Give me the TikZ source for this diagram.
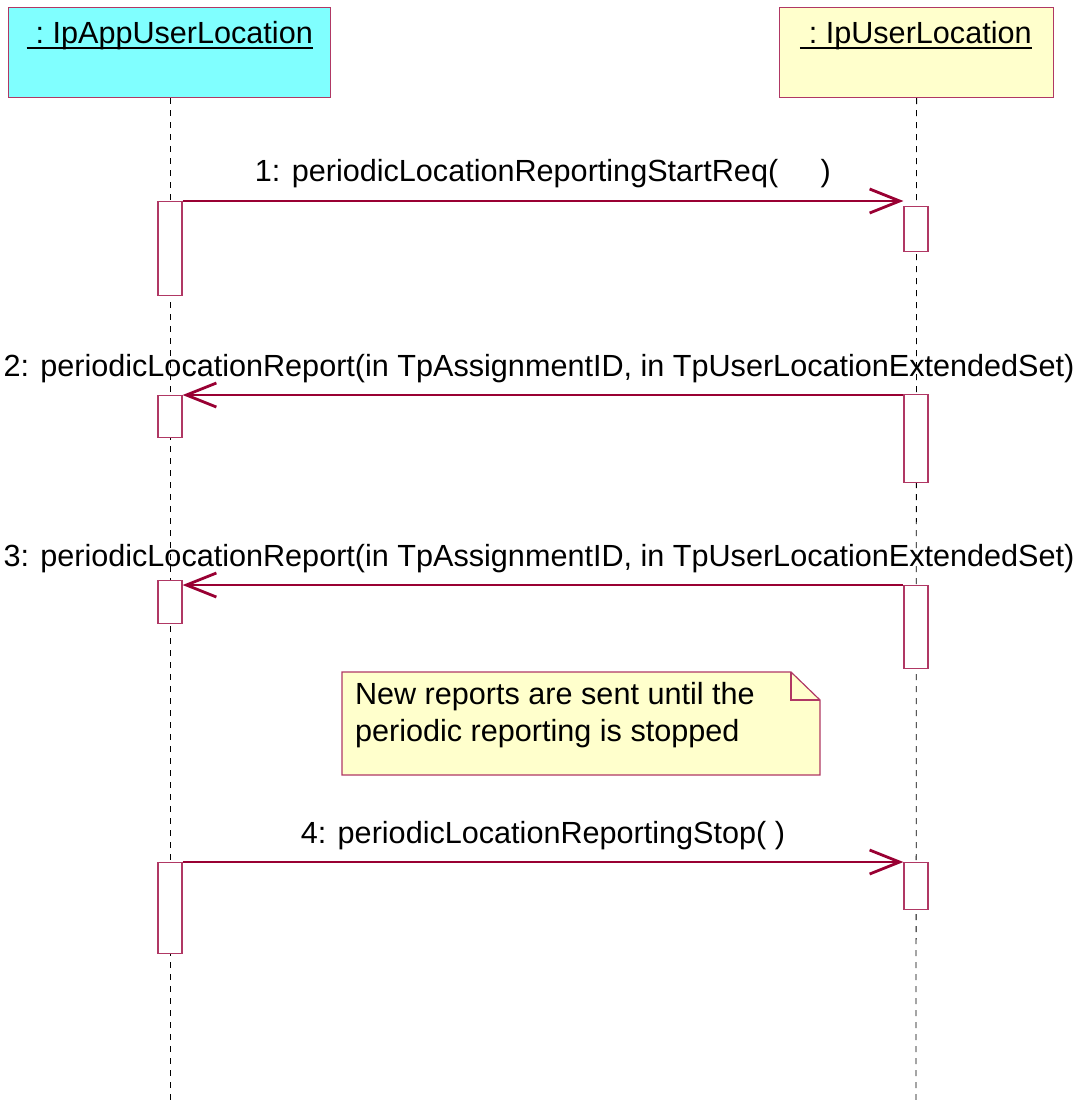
\documentclass[tikz,border=0pt]{standalone}
\usepackage{fontspec}
\setmainfont{Liberation Sans}
\usetikzlibrary{positioning,arrows.meta}
\definecolor{umlline}{RGB}{153,0,51}
\definecolor{umledge}{RGB}{176,56,100}
\definecolor{objcyan}{RGB}{128,255,255}
\definecolor{objyellow}{RGB}{255,255,204}

\begin{document}
\begin{tikzpicture}[x=0.5pt, y=-0.5pt, font=\fontsize{15.3}{18.5}\selectfont,
	obj/.style={draw=umledge, line width=0.6pt, inner sep=0pt, minimum height=45pt, anchor=north west},
	act/.style={draw=umledge, line width=0.6pt, fill=white, inner sep=0pt, minimum width=12pt, anchor=north},
	msg/.style={draw=umlline, line width=0.7pt, -{Straight Barb[length=15pt, width=12pt, line width=1.4pt]}},
	lifeline/.style={line width=0.4pt, dash pattern=on 3pt off 3pt}]
	\useasboundingbox (0,0) rectangle (1079,1100);
	
	%objects
	\node[obj, fill=objcyan, minimum width=161pt] (appbox) at (8,7) {};
	\node[obj, fill=objyellow, minimum width=137pt] (ulbox) at (779,7) {};
	\node[anchor=base, inner sep=0pt] (apptitle) at (170,43) {\ :\ IpAppUserLocation};
	\node[anchor=base, inner sep=0pt] (ultitle) at (916,43) {\ :\ IpUserLocation};
	\draw[line width=1pt] (apptitle.base west) ++(0,5) -- ([yshift=-2.5pt]apptitle.base east);
	\draw[line width=1pt] (ultitle.base west) ++(0,5) -- ([yshift=-2.5pt]ultitle.base east);
	
	%lifelines
	\coordinate (append) at (170,1100);
	\coordinate (ulend) at (916,1100);
	\draw[lifeline] (appbox.south -| append) -- (append);
	\draw[lifeline] (ulbox.south) -- (ulend);
	
	%activations
	\foreach \n/\x/\y/\h in {a1/170/201/47, a2/170/395/21, a3/170/580/21.5, a4/170/862/45.5,
		b1/916/206/22.5, b2/916/394/44, b3/916/585/41.5, b4/916/862/23.5}{
		\node[act, minimum height=\h pt] (\n) at (\x,\y) {};
	}
	
	%messages
	\draw[msg] (a1.north east) -- (a1.north east -| b1.west);
	\draw[msg] (b2.west |- a2.north) -- (a2.north east);
	\draw[msg] (b3.north west) -- (b3.north west -| a3.east);
	\draw[msg] (a4.north east) -- (a4.north east -| b4.west);
	
	\node[anchor=base] (l1) at (543,181) {1: periodicLocationReportingStartReq(\ \ \ \ \ )};
	\node[anchor=base] (l2) at (539,376) {2: periodicLocationReport(in TpAssignmentID, in TpUserLocationExtendedSet)};
	\node[anchor=base] (l3) at (539,566) {3: periodicLocationReport(in TpAssignmentID, in TpUserLocationExtendedSet)};
	\node[anchor=base] (l4) at (543,843) {4: periodicLocationReportingStop( )};
	
	%note
	\draw[draw=umledge, line width=0.6pt, fill=objyellow] (342,672) -- (791,672) -- (820,700) -- (820,775) -- (342,775) -- cycle;
	\draw[draw=umledge, line width=0.6pt] (791,672) -- (791,700) -- (820,700);
	\node[anchor=base west, align=left] (note) at (348,741) {New reports are sent until the\\periodic reporting is stopped};
\end{tikzpicture}
\end{document}
